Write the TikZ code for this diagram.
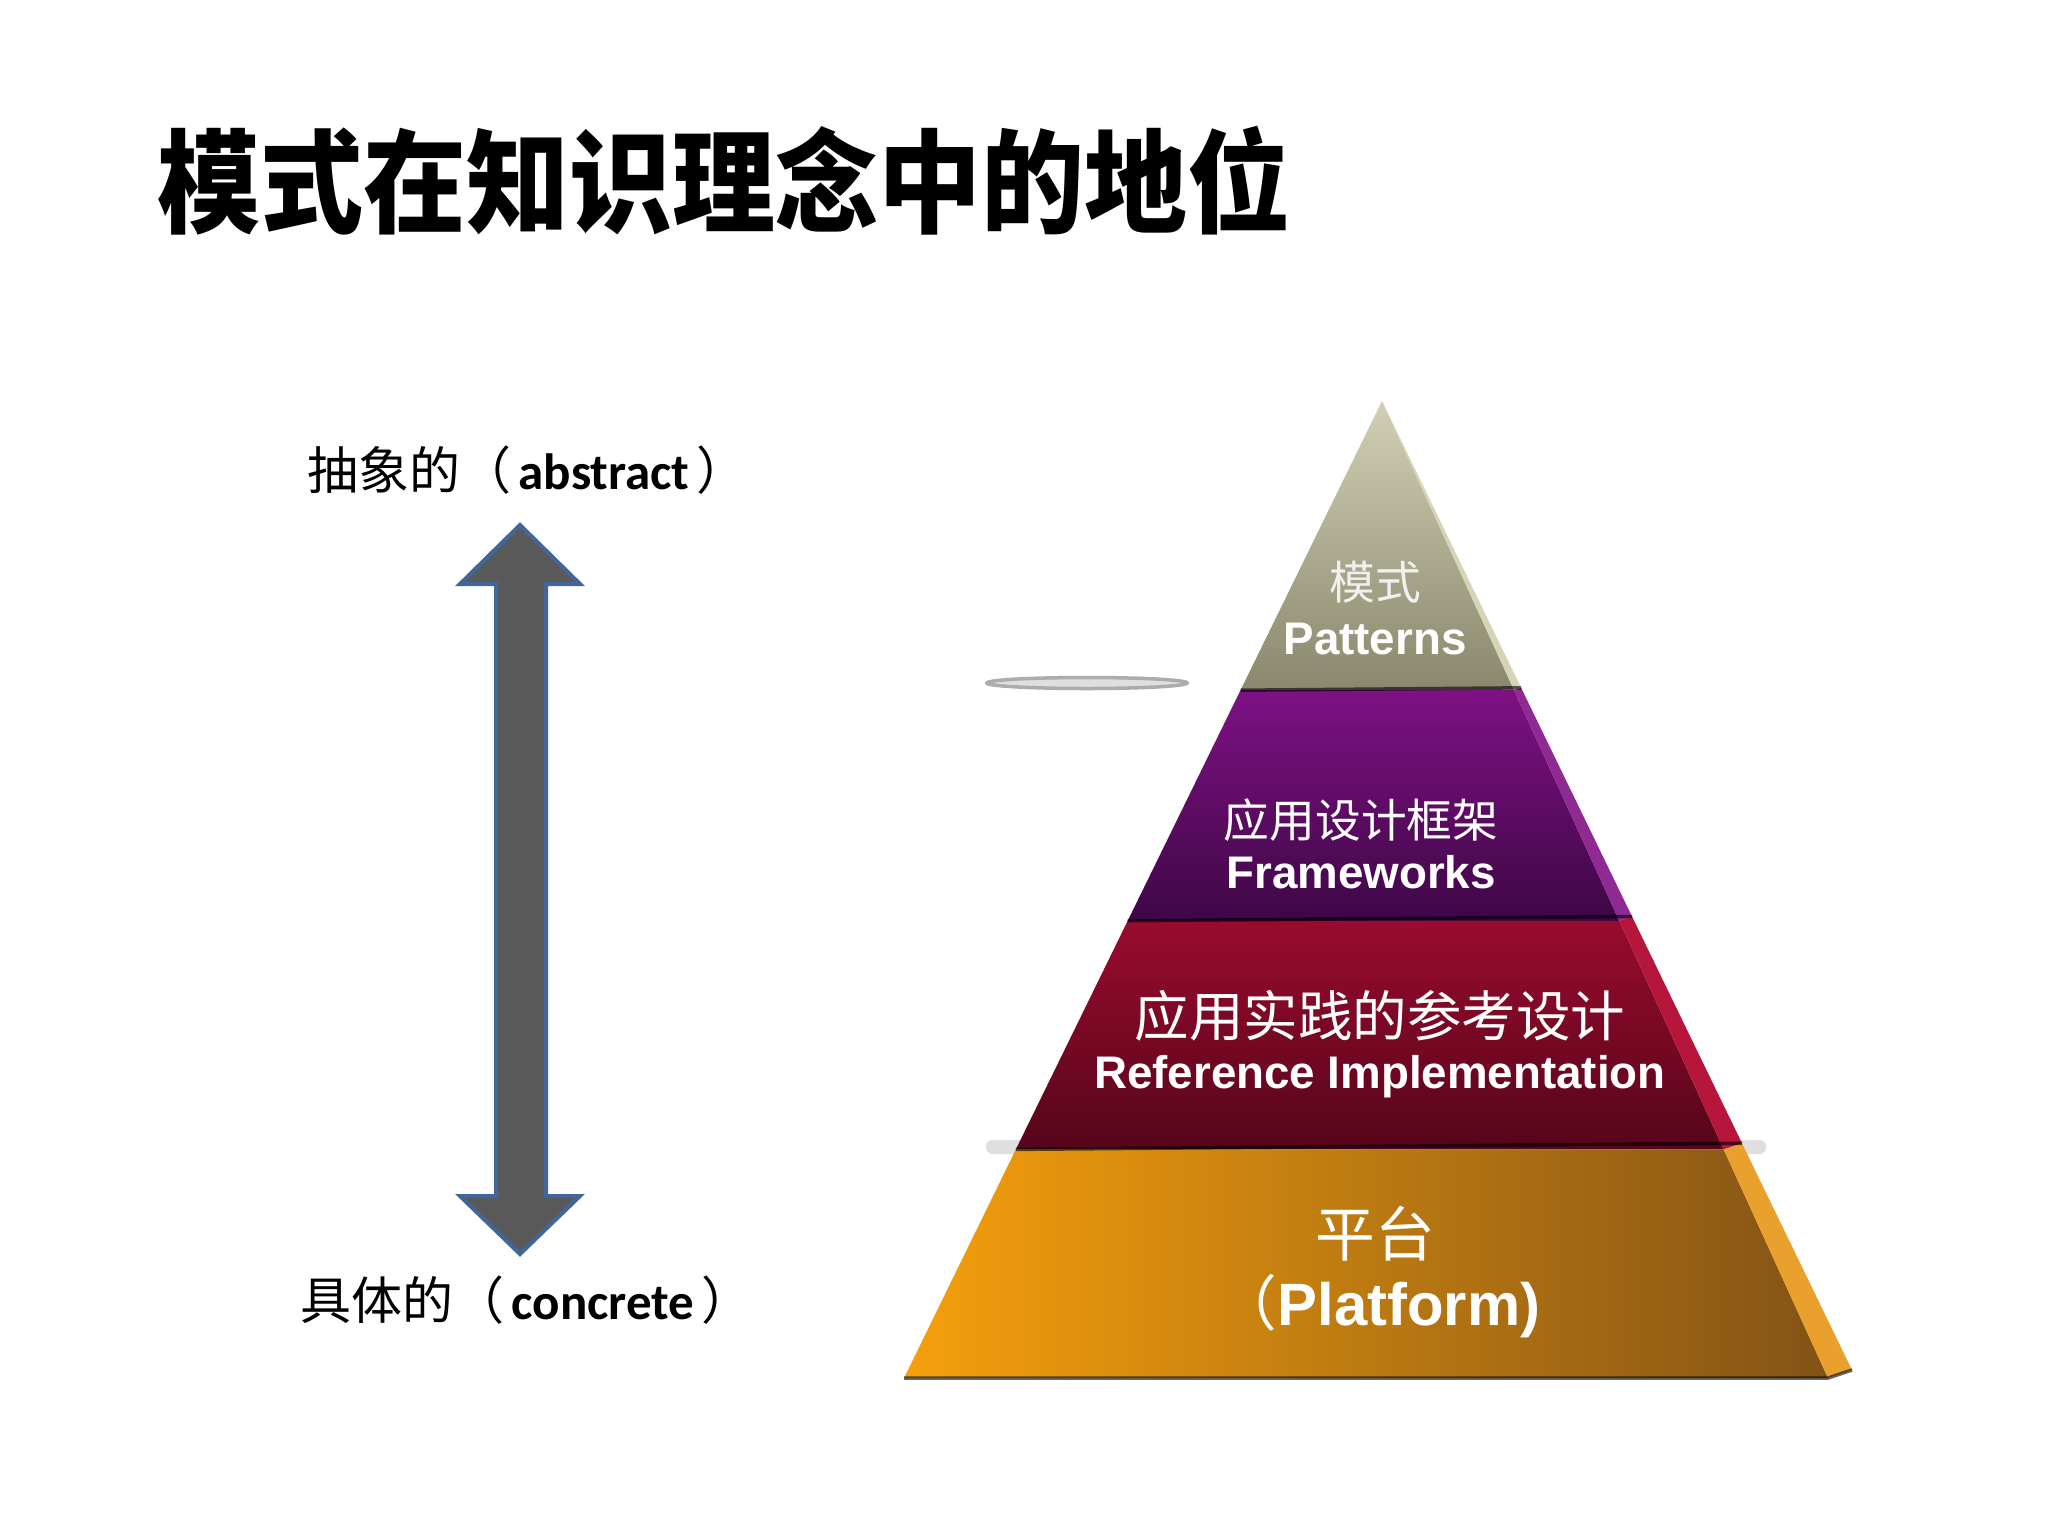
\documentclass[tikz,border=0pt]{standalone}
\usepackage{fontspec}
\setmainfont{Liberation Sans}
\newfontfamily\cjk{Noto Sans CJK SC}
\newfontfamily\carl{Carlito}
\usetikzlibrary{calc}

\definecolor{arrowfill}{HTML}{595959}
\definecolor{arrowline}{HTML}{41679A}
\definecolor{pattop}{HTML}{D2D0B4}
\definecolor{patbot}{HTML}{8A886C}
\definecolor{patside}{HTML}{D6D4B6}
\definecolor{fwtop}{HTML}{7E1184}
\definecolor{fwbot}{HTML}{3E0746}
\definecolor{fwside}{HTML}{8E2A92}
\definecolor{reftop}{HTML}{990B2E}
\definecolor{refbot}{HTML}{56051A}
\definecolor{refside}{HTML}{B6163C}
\definecolor{platleft}{HTML}{F5A00C}
\definecolor{platright}{HTML}{835316}
\definecolor{platside}{HTML}{EAA02C}

\begin{document}
\begin{tikzpicture}[
  x=0.01cm, y=-0.01cm,
  title/.style={anchor=west, inner sep=0pt, font=\cjk\bfseries\fontsize{32}{36}\selectfont},
  axislbl/.style={anchor=west, inner sep=0pt, font=\fontsize{14.5}{17}\selectfont},
  cnlbl/.style={text=white, inner sep=0pt, font=\cjk\fontsize{13}{15}\selectfont},
  enlbl/.style={text=white, inner sep=0pt, font=\bfseries\fontsize{13}{15}\selectfont},
  shadowline/.style={black, opacity=0.6, line width=0.035cm},
  bigarrow/.style={fill=arrowfill, draw=arrowline, line width=0.04cm, line join=miter}
]
\fill[white] (0,0) rectangle (2048,1536);
\useasboundingbox (0,0) rectangle (2048,1536);

\node[title] (title) at (157,181) {\scalebox{0.915}[1]{模式在知识理念中的地位}};

% left axis
\node[axislbl] (abstract) at (307,470) {{\cjk 抽象的（}\hspace{2pt}{\carl\bfseries abstract}\hspace{2pt}{\cjk ）}};
\node[axislbl] (concrete) at (300,1300) {{\cjk 具体的（}\hspace{2pt}{\carl\bfseries concrete}\hspace{2pt}{\cjk ）}};
\coordinate (up) at (520,525);
\coordinate (down) at (520,1254);
\draw[bigarrow] (up) -- (580,584) -- (546,584) -- (546,1196) -- (580,1196) -- (down)
  -- (460,1196) -- (496,1196) -- (496,584) -- (460,584) -- cycle;

% pyramid
\coordinate (apex) at (1382,401);
\coordinate (bl) at (904,1378);
\coordinate (br) at (1828,1378);
\coordinate (sr) at (1852,1370);
\foreach \t [count=\i] in {0.296,0.532,0.766}{
  \coordinate (l\i) at ($(apex)!\t!(bl)$);
  \coordinate (r\i) at ($(apex)!\t!(br)$);
  \coordinate (s\i) at ($(apex)!\t!(sr)$);
}
\draw[gray!65, fill=gray!25, line width=0.035cm] (1087,683) ellipse (1.0cm and 0.055cm);
\fill[gray!25, rounded corners=0.06cm] (986,1140) rectangle (1766,1154);

\shade[top color=pattop, bottom color=patbot] (apex) -- (r1) -- (l1) -- cycle;
\fill[patside] (apex) -- (s1) -- (r1) -- cycle;
\shade[top color=fwtop, bottom color=fwbot] (l1) -- (r1) -- (r2) -- (l2) -- cycle;
\fill[fwside] (r1) -- (s1) -- (s2) -- (r2) -- cycle;
\shade[top color=reftop, bottom color=refbot] (l2) -- (r2) -- (r3) -- (l3) -- cycle;
\fill[refside] (r2) -- (s2) -- (s3) -- (r3) -- cycle;
\shade[left color=platleft, right color=platright] (l3) -- (r3) -- (br) -- (bl) -- cycle;
\fill[platside] (r3) -- (s3) -- (sr) -- (br) -- cycle;
\foreach \i in {1,2,3}
  \draw[shadowline] (l\i) -- (s\i);
\draw[shadowline] (bl) -- (br) -- (sr);

\node[cnlbl, text=white!88!gray] (patcn) at (1375,582) {模式};
\node[enlbl, below of=patcn, node distance=0.57cm] (paten) {Patterns};
\node[cnlbl] (fwcn) at (1361,820) {应用设计框架};
\node[enlbl, below of=fwcn, node distance=0.52cm] (fwen) {Frameworks};
\node[cnlbl, font=\cjk\fontsize{15.5}{18}\selectfont] (refcn) at (1380,1016) {应用实践的参考设计};
\node[enlbl, below of=refcn, node distance=0.61cm] (refen) {Reference Implementation};
\node[cnlbl, font=\cjk\fontsize{17}{20}\selectfont] (platcn) at (1375,1234) {平台};
\node[enlbl, font=\bfseries\fontsize{17}{20}\selectfont, below of=platcn, node distance=0.72cm, xshift=0.04cm] (platen) {{\cjk\mdseries （}Platform)};
\end{tikzpicture}
\end{document}
